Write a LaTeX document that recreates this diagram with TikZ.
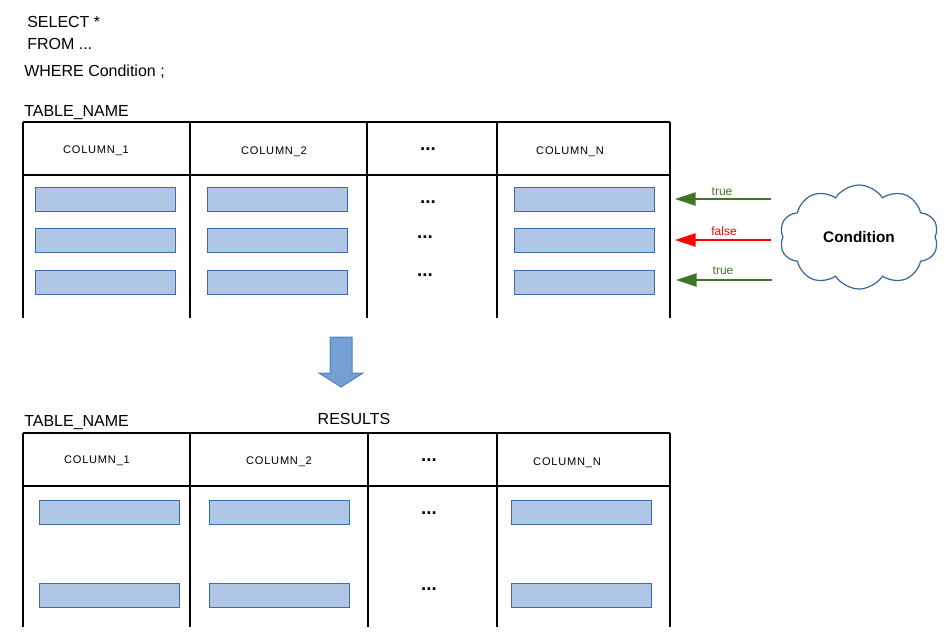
\documentclass[tikz,border=0pt]{standalone}
\usepackage{fontspec}
\setmainfont{Liberation Sans}
\usetikzlibrary{arrows.meta,shapes.symbols}
\definecolor{barfill}{RGB}{176,198,231}
\definecolor{barline}{RGB}{62,106,170}
\definecolor{bigfill}{RGB}{118,160,212}
\definecolor{bigline}{RGB}{80,126,190}
\definecolor{cloudline}{RGB}{52,101,164}
\definecolor{okgreen}{RGB}{62,118,38}
\definecolor{okred}{RGB}{255,0,0}
\tikzset{
  tline/.style={line width=1.125pt,black},
  bar/.style={draw=barline,fill=barfill,line width=0.75pt,minimum width=105pt,minimum height=18pt,inner sep=0,outer sep=0},
  sqltext/.style={anchor=base west,inner sep=0,font=\fontsize{12pt}{14pt}\selectfont},
  colhead/.style={anchor=base,inner sep=0,font=\fontsize{8.3pt}{10pt}\selectfont\addfontfeatures{LetterSpace=7}},
  dotsnode/.style={anchor=base,inner sep=0,font=\bfseries\fontsize{14pt}{16pt}\selectfont},
  flag/.style={anchor=base,inner sep=0,font=\fontsize{9pt}{11pt}\selectfont},
  condarrow/.style={line width=1.2pt,-{Triangle[length=15.5pt,width=10pt]}},
}
\begin{document}
\begin{tikzpicture}[x=0.75pt,y=-0.75pt]
\useasboundingbox (0,0) rectangle (945,643);
% SQL text
\node[sqltext] (sel) at (27,27) {SELECT *};
\node[sqltext] (from) at (27,49) {FROM ...};
\node[sqltext] (where) at (24,76) {WHERE Condition ;};
\node[sqltext] (tn1) at (24,116) {TABLE\_NAME};
% top table
\draw[tline] (23,122) -- (670,122);
\draw[tline] (23,175) -- (670,175);
\foreach \xx in {23,190,367,497,670} \draw[tline] (\xx,122) -- (\xx,318);
\node[colhead] (h11) at (96,153) {COLUMN\_1};
\node[colhead] (h12) at (274,154) {COLUMN\_2};
\node[dotsnode] (h13) at (428,150) {...};
\node[colhead] (h14) at (570,154) {COLUMN\_N};
% rows top
\foreach \yy/\nm in {199.5/a,240.5/b,282/c}{
  \node[bar] (r1\nm) at (105,\yy) {};
  \node[bar] (r2\nm) at (277,\yy) {};
  \node[bar] (r4\nm) at (584,\yy) {};
}
\node[dotsnode] (d1a) at (428,203) {...};
\node[dotsnode] (d1b) at (425,238) {...};
\node[dotsnode] (d1c) at (425,276) {...};
% cloud
\node[cloud,cloud puffs=10,cloud puff arc=115,aspect=1.55,draw=cloudline,line width=0.9pt,
      minimum width=119pt,minimum height=78pt,inner sep=0,
      font=\bfseries\fontsize{11.5pt}{13pt}\selectfont] (cond) at (859,237) {Condition};
% arrows
\coordinate (s1) at (771,199);
\coordinate (e1) at (675,199);
\coordinate (s2) at (771,240);
\coordinate (e2) at (675,240);
\coordinate (s3) at (772,280);
\coordinate (e3) at (676,280);
\draw[condarrow,okgreen] (s1) -- (e1);
\draw[condarrow,okred] (s2) -- (e2);
\draw[condarrow,okgreen] (s3) -- (e3);
\node[flag,text=okgreen] (t1) at (722,195) {true};
\node[flag,text=okred] (t2) at (724,235) {false};
\node[flag,text=okgreen] (t3) at (723,274) {true};
% big down arrow
\draw[fill=bigfill,draw=bigline,line width=0.75pt] (330,337) -- (352,337) -- (352,373) -- (363,373) -- (341,387) -- (319,373) -- (330,373) -- cycle;
% bottom table
\node[sqltext] (tn2) at (24,426) {TABLE\_NAME};
\node[sqltext,anchor=base] (res) at (354,424) {RESULTS};
\draw[tline] (23,433) -- (670,433);
\draw[tline] (23,486) -- (670,486);
\foreach \xx in {23,190,368,497,670} \draw[tline] (\xx,433) -- (\xx,627);
\node[colhead] (h21) at (97,463) {COLUMN\_1};
\node[colhead] (h22) at (279,464) {COLUMN\_2};
\node[dotsnode] (h23) at (429,461) {...};
\node[colhead] (h24) at (567,465) {COLUMN\_N};
\foreach \yy/\nm in {512/a,595/b}{
  \node[bar] (q1\nm) at (109,\yy) {};
  \node[bar] (q2\nm) at (279,\yy) {};
  \node[bar] (q4\nm) at (581,\yy) {};
}
\node[dotsnode] (d2a) at (429,514) {...};
\node[dotsnode] (d2b) at (429,590) {...};
\end{tikzpicture}
\end{document}
